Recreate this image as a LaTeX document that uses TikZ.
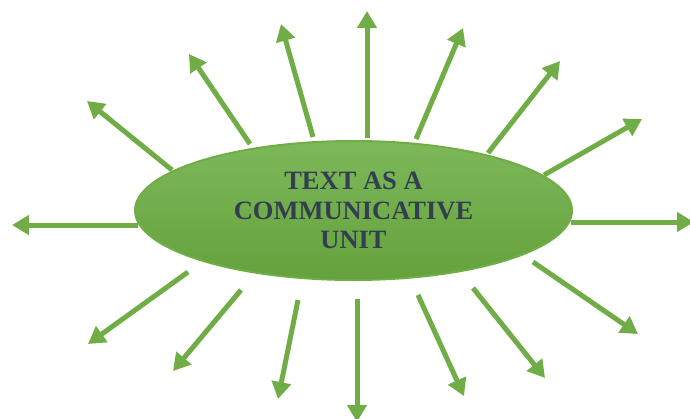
\documentclass[tikz,border=0pt]{standalone}
\usepackage{fontspec}
\setmainfont{Liberation Serif}
\usetikzlibrary{arrows.meta,shapes.geometric}
\definecolor{leafgreen}{HTML}{70AD47}
\definecolor{leaftop}{HTML}{7DB85A}
\definecolor{leafbottom}{HTML}{64A23C}
\definecolor{inkslate}{HTML}{333F50}

\begin{document}
\begin{tikzpicture}[
    x=1pt, y=-1pt,
    >={Triangle[length=17pt,width=19pt]},
    ray/.style={->, draw=leafgreen, fill=leafgreen, line width=5pt},
    hub/.style={ellipse, draw=leafgreen, line width=2pt, top color=leaftop, bottom color=leafbottom,
      minimum width=437pt, minimum height=139pt, inner sep=0pt, align=center, text=inkslate,
      font=\fontsize{26.5}{29.5}\selectfont\bfseries}
  ]
    \useasboundingbox (0,0) rectangle (690,418);
    \node[hub] (unit) at (353.5,210.5) {TEXT AS A\\COMMUNICATIVE\\UNIT};

    % rays, clockwise from the left
    \foreach \n/\sx/\sy/\tx/\ty in {1/138/225/12/225, 2/172/170/87/101, 3/250/144/189/54,
        4/313/137/281/24, 5/367/138/367/11, 6/416/139/463/28, 7/488/153/560/61,
        8/544/175/642/119, 9/571/222/694/222, 10/533/262/638/334, 11/473/288/545/378,
        12/418/295/464/396, 13/357/299/357/422, 14/298/300/278/399, 15/241/290/173/371,
        16/188/272/88/344}
    {
      \coordinate (s\n) at (\sx,\sy);
      \coordinate (t\n) at (\tx,\ty);
      \draw[ray] (s\n) -- (t\n);
    }
\end{tikzpicture}
\end{document}
